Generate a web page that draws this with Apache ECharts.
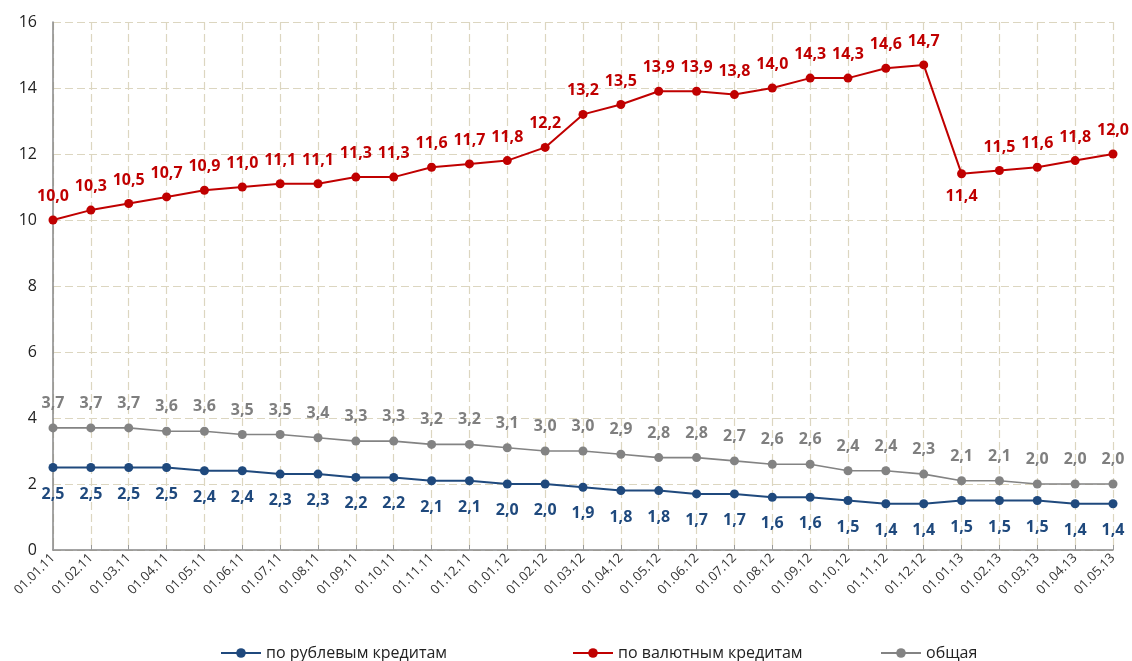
<!DOCTYPE html>
<html>
<head>
<meta charset="utf-8">
<script src="https://cdn.jsdelivr.net/npm/echarts@6/dist/echarts.min.js"></script>
<style>
  html, body { margin: 0; padding: 0; background: #fff; }
  #chart { width: 1132px; height: 661px; }
</style>
</head>
<body>
<div id="chart"></div>
<script>
// Monthly reporting dates
const categories = [
  '01.01.11','01.02.11','01.03.11','01.04.11','01.05.11','01.06.11','01.07.11',
  '01.08.11','01.09.11','01.10.11','01.11.11','01.12.11','01.01.12','01.02.12',
  '01.03.12','01.04.12','01.05.12','01.06.12','01.07.12','01.08.12','01.09.12',
  '01.10.12','01.11.12','01.12.12','01.01.13','01.02.13','01.03.13','01.04.13',
  '01.05.13'
];

// Rouble loans
const rubLoans = [
  2.5, 2.5, 2.5, 2.5, 2.4, 2.4, 2.3, 2.3, 2.2, 2.2, 2.1, 2.1, 2.0, 2.0,
  1.9, 1.8, 1.8, 1.7, 1.7, 1.6, 1.6, 1.5, 1.4, 1.4, 1.5, 1.5, 1.5, 1.4, 1.4
];

// Foreign-currency loans
const fxLoans = [
  10.0, 10.3, 10.5, 10.7, 10.9, 11.0, 11.1, 11.1, 11.3, 11.3, 11.6, 11.7, 11.8, 12.2,
  13.2, 13.5, 13.9, 13.9, 13.8, 14.0, 14.3, 14.3, 14.6, 14.7, 11.4, 11.5, 11.6, 11.8, 12.0
];

// Total
const totalLoans = [
  3.7, 3.7, 3.7, 3.6, 3.6, 3.5, 3.5, 3.4, 3.3, 3.3, 3.2, 3.2, 3.1, 3.0,
  3.0, 2.9, 2.8, 2.8, 2.7, 2.6, 2.6, 2.4, 2.4, 2.3, 2.1, 2.1, 2.0, 2.0, 2.0
];

const seriesNames = ['по рублевым кредитам', 'по валютным кредитам', 'общая'];
const yTicks = { min: 0, max: 16, interval: 2 };

const fmt = p => p.value.toFixed(1).replace('.', ',');
const labelFont = 'Open Sans, Noto Sans, sans-serif';

// the January 2013 point drops, so its label goes underneath
const fxData = fxLoans.map((v, i) =>
  categories[i] === '01.01.13'
    ? { value: v, label: { position: 'bottom', distance: 10 } }
    : v
);

const gridLine = { show: true, lineStyle: { color: '#dcd6c0', type: [8, 4], width: 1.2 } };

// one legend block per series so each entry sits at its own spot
const legendLefts = [215, 567, 875];
const legends = seriesNames.map((name, i) => ({
  left: legendLefts[i],
  top: 640,
  itemWidth: 40,
  itemHeight: 12,
  textStyle: { fontSize: 16, color: '#222', fontFamily: labelFont },
  data: [name]
}));

const chart = echarts.init(document.getElementById('chart'), null, { renderer: 'canvas' });
chart.setOption({
  animation: false,
  textStyle: { fontFamily: labelFont },
  grid: { left: 53, right: 19, top: 22, bottom: 111, containLabel: false },
  legend: legends,
  xAxis: {
    type: 'category',
    data: categories,
    boundaryGap: false,
    axisLine: { lineStyle: { color: '#878787', width: 1.5 } },
    axisTick: { show: true, inside: true, length: 5, lineStyle: { color: '#999' } },
    axisLabel: { rotate: 45, fontSize: 13, color: '#333', margin: 6, interval: 0 },
    splitLine: gridLine
  },
  yAxis: {
    type: 'value',
    min: yTicks.min,
    max: yTicks.max,
    interval: yTicks.interval,
    axisLine: { show: true, lineStyle: { color: '#878787', width: 1.5 } },
    axisTick: { show: false },
    axisLabel: { fontSize: 16, color: '#222', margin: 16 },
    splitLine: gridLine
  },
  series: [
    {
      name: seriesNames[0],
      type: 'line',
      data: rubLoans,
      color: '#1f497d',
      symbol: 'circle',
      symbolSize: 9,
      lineStyle: { width: 2 },
      label: {
        show: true, position: 'bottom', distance: 14, formatter: fmt,
        color: '#1f497d', fontWeight: 'bold', fontSize: 16, fontFamily: labelFont
      }
    },
    {
      name: seriesNames[1],
      type: 'line',
      data: fxData,
      color: '#c00000',
      symbol: 'circle',
      symbolSize: 9,
      lineStyle: { width: 2 },
      label: {
        show: true, position: 'top', distance: 11, formatter: fmt,
        color: '#c00000', fontWeight: 'bold', fontSize: 16, fontFamily: labelFont
      }
    },
    {
      name: seriesNames[2],
      type: 'line',
      data: totalLoans,
      color: '#838383',
      symbol: 'circle',
      symbolSize: 9,
      lineStyle: { width: 1.6 },
      label: {
        show: true, position: 'top', distance: 12, formatter: fmt,
        color: '#7f7f7f', fontWeight: 'bold', fontSize: 16, fontFamily: labelFont
      }
    }
  ]
});
</script>
</body>
</html>
